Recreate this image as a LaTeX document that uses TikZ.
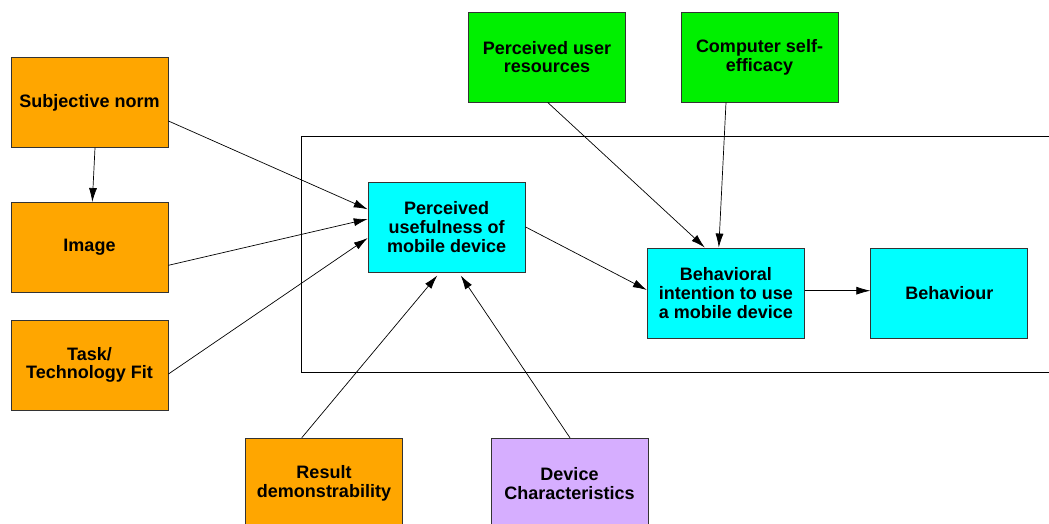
\documentclass[tikz,border=0pt]{standalone}
\usepackage{fontspec}
\setmainfont{Liberation Sans}
\usetikzlibrary{arrows.meta}
\definecolor{boxorange}{RGB}{255,166,0}
\definecolor{boxgreen}{RGB}{0,240,0}
\definecolor{boxcyan}{RGB}{0,255,255}
\definecolor{boxlilac}{RGB}{214,174,255}
\tikzset{every node/.style={draw=black!80,line width=0.9pt,minimum width=157pt,minimum height=90pt,inner sep=2pt,align=center,font=\fontsize{18}{18.7}\selectfont\bfseries},
  factor/.style={fill=boxorange},
  resource/.style={fill=boxgreen},
  core/.style={fill=boxcyan},
  device/.style={fill=boxlilac},
  link/.style={line width=0.7pt,-{Latex[length=14pt,width=8pt]}}}

\begin{document}
\begin{tikzpicture}[x=1pt,y=-1pt]
      \path[use as bounding box,clip] (0,0) rectangle (1049,524);
      \draw[line width=0.9pt] (1049,136.3) -- (301.7,136.3) -- (301.7,372.3) -- (1049,372.3);
      \node[factor] (sn) at (89.5,102.5) {Subjective norm};
      \node[factor] (img) at (89.5,247.5) {Image};
      \node[factor] (ttf) at (89.5,365) {Task/\\Technology Fit};
      \node[core] (pu) at (446.7,227) {Perceived\\usefulness of\\mobile device};
      \node[resource] (pur) at (547,57) {Perceived user\\resources};
      \node[resource] (cse) at (759.5,57) {Computer self-\\efficacy};
      \node[core] (bi) at (725.8,293) {Behavioral\\intention to use\\a mobile device};
      \node[core] (beh) at (949.3,293) {Behaviour};
      \node[factor] (rd) at (324,483.3) {Result\\demonstrability};
      \node[device] (dc) at (569.5,483.3) {Device\\Characteristics};

\draw[link] ([xshift=5.5pt]sn.south) -- ([xshift=2.8pt]img.north);
\draw[link] ([yshift=-18.5pt]sn.east) -- ([yshift=17.7pt]pu.west);
\draw[link] ([yshift=-17.8pt]img.east) -- ([yshift=8pt]pu.west);
\draw[link] ([yshift=-9pt]ttf.east) -- ([yshift=-11pt]pu.west);
\draw[link] ([xshift=-22.3pt]rd.north) -- ([xshift=-9.4pt,yshift=-3pt]pu.south);
\draw[link] ([xshift=0.5pt]dc.north) -- ([xshift=14pt,yshift=-3pt]pu.south);
\draw[link] (pu.east) -- ([yshift=3pt]bi.west);
\draw[link] ([xshift=0.7pt]pur.south) -- ([xshift=-21pt]bi.north);
\draw[link] ([xshift=-33.5pt]cse.south) -- ([xshift=-7pt]bi.north);
\draw[link] ([yshift=2.3pt]bi.east) -- ([yshift=2.3pt]beh.west);
    \end{tikzpicture}
\end{document}
